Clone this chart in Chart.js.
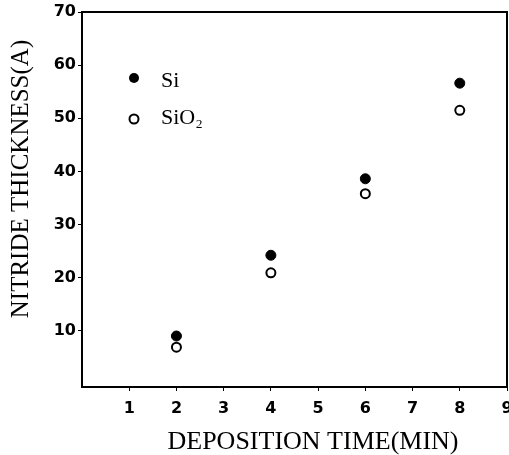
<!DOCTYPE html>
<html>
<head>
<meta charset="utf-8">
<script src="https://cdn.jsdelivr.net/npm/chart.js@4"></script>
<style>
  body { margin: 0; background: #fff; }
</style>
</head>
<body>
<canvas id="grafico" width="509" height="455"></canvas>
<script>
// deposition time (min)
const tempos = [2, 4, 6, 8];
// nitride thickness (A)
const espessuraSi = [9.0, 24.2, 38.6, 56.6];
const espessuraSiO2 = [6.9, 20.9, 35.8, 51.5];
const rotulos = ['Si', 'SiO\u2082'];
const ticksX = [1, 2, 3, 4, 5, 6, 7, 8, 9];
const ticksY = [10, 20, 30, 40, 50, 60, 70];

const fonteTicks = { family: 'DejaVu Sans', size: 16, weight: 'bold' };
const serif = '"Liberation Serif", "DejaVu Serif", serif';

// caixa, legenda interna e titulos dos eixos
const extras = {
  id: 'extras',
  afterDraw(chart) {
    const c = chart.ctx;
    const a = chart.chartArea;
    c.save();
    c.strokeStyle = '#000';
    c.lineWidth = 2;
    c.beginPath();
    c.moveTo(a.left, a.top);
    c.lineTo(a.right, a.top);
    c.lineTo(a.right, a.bottom);
    c.stroke();

    // legenda
    c.fillStyle = '#000';
    c.beginPath();
    c.arc(134, 78, 5, 0, Math.PI * 2);
    c.fill();
    c.beginPath();
    c.arc(134, 119, 4.5, 0, Math.PI * 2);
    c.fillStyle = '#fff';
    c.fill();
    c.lineWidth = 2;
    c.stroke();
    c.fillStyle = '#000';
    c.font = '22px ' + serif;
    c.textBaseline = 'middle';
    c.textAlign = 'left';
    c.fillText(rotulos[0], 161, 81);
    c.fillText(rotulos[1], 161, 118);

    // titulos
    c.textAlign = 'center';
    c.font = '26px ' + serif;
    c.fillText('DEPOSITION TIME(MIN)', 313, 442);
    c.font = '25px ' + serif;
    c.translate(21, 179);
    c.rotate(-Math.PI / 2);
    c.fillText('NITRIDE THICKNESS(A)', 0, 0);
    c.restore();
  }
};

new Chart(document.getElementById('grafico'), {
  type: 'scatter',
  data: {
    datasets: [
      {
        label: rotulos[0],
        data: tempos.map((t, i) => ({ x: t, y: espessuraSi[i] })),
        pointRadius: 5,
        pointBackgroundColor: '#000',
        pointBorderColor: '#000',
        pointBorderWidth: 1
      },
      {
        label: rotulos[1],
        data: tempos.map((t, i) => ({ x: t, y: espessuraSiO2[i] })),
        pointRadius: 4.5,
        pointBackgroundColor: '#fff',
        pointBorderColor: '#000',
        pointBorderWidth: 2
      }
    ]
  },
  options: {
    responsive: false,
    animation: false,
    layout: { autoPadding: false, padding: { top: 12, right: 2, left: 0, bottom: 0 } },
    plugins: { legend: { display: false }, tooltip: { enabled: false } },
    scales: {
      x: {
        type: 'linear',
        min: 0,
        max: 9,
        afterBuildTicks: (s) => { s.ticks = ticksX.map(v => ({ value: v })); },
        afterFit: (s) => { s.height = 68; s.paddingLeft = 0; s.paddingRight = 0; },
        grid: { drawOnChartArea: false, color: '#000', tickLength: 4, tickWidth: 1 },
        border: { color: '#000', width: 2 },
        ticks: { color: '#000', font: fonteTicks, padding: 8, maxRotation: 0 }
      },
      y: {
        type: 'linear',
        min: -0.6,
        max: 70,
        afterBuildTicks: (s) => { s.ticks = ticksY.map(v => ({ value: v })); },
        afterFit: (s) => { s.width = 82; s.paddingTop = 0; s.paddingBottom = 0; },
        grid: { drawOnChartArea: false, color: '#000', tickLength: 4, tickWidth: 1 },
        border: { color: '#000', width: 2 },
        ticks: { color: '#000', font: fonteTicks, padding: 2 }
      }
    }
  },
  plugins: [extras]
});
</script>
</body>
</html>
